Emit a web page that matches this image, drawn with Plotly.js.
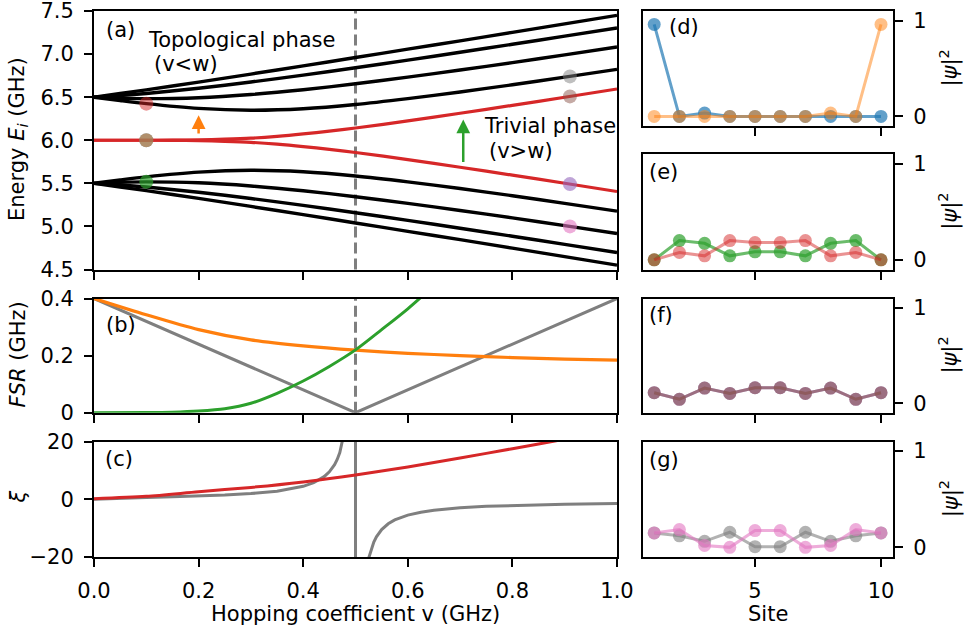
<!DOCTYPE html>
<html><head><meta charset="utf-8">
<script src="https://cdn.plot.ly/plotly-3.0.1.min.js"></script>
<style>html,body{margin:0;padding:0;background:#fff}#chart{width:978px;height:633px}</style>
</head><body><div id="chart"></div>
<script>
// ---------- panel (a): energies vs hopping v ----------
const hopV = [0, 0.05, 0.1, 0.2, 0.3, 0.4, 0.5, 0.6, 0.7, 0.8, 0.9, 1.0];
const bandUp1 = [6.5, 6.542, 6.585, 6.675, 6.768, 6.863, 6.960, 7.057, 7.154, 7.252, 7.351, 7.449];
const bandUp2 = [6.5, 6.519, 6.543, 6.603, 6.676, 6.756, 6.841, 6.930, 7.021, 7.114, 7.208, 7.303];
const bandUp3 = [6.5, 6.488, 6.483, 6.494, 6.531, 6.586, 6.655, 6.732, 6.815, 6.901, 6.991, 7.082];
const bandUp4 = [6.5, 6.461, 6.425, 6.370, 6.349, 6.366, 6.415, 6.483, 6.560, 6.644, 6.732, 6.823];
const bandLo1 = [5.5, 5.458, 5.415, 5.325, 5.232, 5.137, 5.040, 4.943, 4.846, 4.748, 4.649, 4.551];
const bandLo2 = [5.5, 5.481, 5.457, 5.397, 5.324, 5.244, 5.159, 5.070, 4.979, 4.886, 4.792, 4.697];
const bandLo3 = [5.5, 5.512, 5.517, 5.506, 5.469, 5.414, 5.345, 5.268, 5.185, 5.099, 5.009, 4.918];
const bandLo4 = [5.5, 5.539, 5.575, 5.630, 5.651, 5.634, 5.585, 5.517, 5.440, 5.356, 5.268, 5.177];
const edgeV  = [0, 0.1, 0.15, 0.2, 0.25, 0.3, 0.35, 0.4, 0.45, 0.5, 0.6, 0.7, 0.8, 0.9, 1.0];
const edgeUp = [6.0, 6.0, 6.001, 6.004, 6.012, 6.024, 6.045, 6.073, 6.106, 6.142, 6.224, 6.313, 6.405, 6.499, 6.595];
const edgeLo = [6.0, 6.0, 5.999, 5.996, 5.988, 5.976, 5.955, 5.927, 5.894, 5.858, 5.776, 5.687, 5.595, 5.501, 5.405];
const energyTicks = [4.5, 5.0, 5.5, 6.0, 6.5, 7.0, 7.5];
const energyTickText = ['4.5', '5.0', '5.5', '6.0', '6.5', '7.0', '7.5'];
// highlighted states
const dotLeftV = [0.1];
const dotEdgeE = [6.0], dotRedE = [6.425], dotGreenE = [5.517];
const dotRightV = [0.91];
const dotGrayE = [6.741], dotBrownE = [6.509], dotPurpleE = [5.491], dotPinkE = [5.0];
const transitionV = 0.5;

// ---------- panel (b): FSR ----------
const fsrGrayV = [0, 0.5, 1.0];
const fsrGray  = [0.4, 0.0, 0.4];
const fsrOrangeV = [0, 0.1, 0.2, 0.3, 0.4, 0.5, 0.6, 0.7, 0.8, 0.9, 1.0];
const fsrOrange  = [0.400, 0.343, 0.291, 0.255, 0.234, 0.219, 0.208, 0.200, 0.193, 0.188, 0.184];
const fsrGreenV = [0, 0.1, 0.15, 0.2, 0.25, 0.3, 0.35, 0.4, 0.45, 0.5, 0.55, 0.6, 0.65];
const fsrGreen  = [0, 0.0005, 0.002, 0.006, 0.014, 0.033, 0.068, 0.111, 0.162, 0.220, 0.291, 0.364, 0.445];

// ---------- panel (c): xi ----------
const xiGrayV = [0, 0.05, 0.1, 0.15, 0.2, 0.25, 0.3, 0.35, 0.4, 0.42, 0.44, 0.45, 0.46, 0.465, 0.47, 0.475, 0.48, 0.485, 0.49, 0.499,
                 0.501, 0.51, 0.515, 0.52, 0.525, 0.53, 0.535, 0.54, 0.55, 0.5625, 0.575, 0.6, 0.625, 0.65, 0.7, 0.75, 0.8, 0.9, 1.0];
const xiGray  = [0, 0.434, 0.621, 0.831, 1.091, 1.443, 1.958, 2.804, 4.481, 5.736, 7.822, 9.491, 11.99, 13.78, 16.16, 19.50, 24.49, 32.8, 49.5, 499.5,
                 -500.5, -50.5, -33.8, -25.5, -20.5, -17.16, -14.79, -12.99, -10.49, -8.49, -7.155, -5.485, -4.48, -3.811, -2.972, -2.466, -2.128, -1.701, -1.443];
const xiRedV = [0, 0.1, 0.2, 0.3, 0.4, 0.5, 0.6, 0.7, 0.8, 0.9, 1.0];
const xiRed  = [0.2, 1.0, 2.6, 4.1, 6.0, 8.4, 11.2, 14.3, 17.5, 20.8, 24.3];

// ---------- panels (d)-(g): |psi|^2 vs site ----------
const sites = [1, 2, 3, 4, 5, 6, 7, 8, 9, 10];
const psiDBlue   = [0.96, 0.0, 0.035, 0.0, 0.0, 0.0, 0.0, 0.0, 0.0, 0.0];
const psiDOrange = [0.0, 0.0, 0.0, 0.0, 0.0, 0.0, 0.0, 0.035, 0.0, 0.96];
const psiEGreen  = [0.0, 0.2, 0.172, 0.042, 0.084, 0.084, 0.042, 0.172, 0.2, 0.0];
const psiERed    = [0.0, 0.077, 0.042, 0.2, 0.18, 0.18, 0.2, 0.042, 0.077, 0.0];
const psiFPurple = [0.11, 0.041, 0.159, 0.103, 0.162, 0.162, 0.103, 0.159, 0.041, 0.11];
const psiFBrown  = [0.11, 0.041, 0.159, 0.103, 0.162, 0.162, 0.103, 0.159, 0.041, 0.11];
const psiGGray   = [0.15, 0.12, 0.063, 0.157, 0.007, 0.007, 0.157, 0.063, 0.12, 0.15];
const psiGPink   = [0.15, 0.185, 0.02, 0.0, 0.175, 0.175, 0.0, 0.02, 0.185, 0.15];

const C = {blue:'31,119,180', orange:'255,127,14', green:'44,160,44', red:'214,39,40',
           purple:'148,103,189', brown:'140,86,75', pink:'227,119,194', gray:'127,127,127'};
const rgba = (c, a) => `rgba(${C[c]},${a})`;

const traces = [];
function curve(x, y, xa, ya, color, width, shape) {
  traces.push({x, y, xaxis: xa, yaxis: ya, mode: 'lines', hoverinfo: 'skip',
    line: {color, width, shape: shape || 'spline', smoothing: 0.8}});
}
// (a)
[bandUp1, bandUp2, bandUp3, bandUp4, bandLo1, bandLo2, bandLo3, bandLo4].forEach(b => curve(hopV, b, 'x', 'y', '#000', 3.4));
curve(edgeV, edgeUp, 'x', 'y', '#d62728', 3.2);
curve(edgeV, edgeLo, 'x', 'y', '#d62728', 3.2);
function dot(x, y, col, a) {
  traces.push({x, y, xaxis: 'x', yaxis: 'y', mode: 'markers', hoverinfo: 'skip',
    marker: {size: 14, color: rgba(col, a), line: {width: 0}}});
}
dot(dotLeftV, dotRedE, 'red', 0.5);
dot(dotLeftV, dotEdgeE, 'blue', 0.7);
dot(dotLeftV, dotEdgeE, 'orange', 0.5);
dot(dotLeftV, dotGreenE, 'green', 0.7);
dot(dotRightV, dotGrayE, 'gray', 0.5);
dot(dotRightV, dotBrownE, 'brown', 0.5);
dot(dotRightV, dotPurpleE, 'purple', 0.6);
dot(dotRightV, dotPinkE, 'pink', 0.6);
// (b)
curve(fsrGrayV, fsrGray, 'x2', 'y2', '#7f7f7f', 3, 'linear');
curve(fsrOrangeV, fsrOrange, 'x2', 'y2', '#ff7f0e', 3.2);
curve(fsrGreenV, fsrGreen, 'x2', 'y2', '#2ca02c', 3);
// (c)
curve(xiGrayV, xiGray, 'x3', 'y3', '#7f7f7f', 3, 'linear');
curve(xiRedV, xiRed, 'x3', 'y3', '#d62728', 3);
// right panels
function psi(y, xa, ya, col, a) {
  traces.push({x: sites, y, xaxis: xa, yaxis: ya, mode: 'lines+markers', hoverinfo: 'skip', cliponaxis: false,
    line: {color: rgba(col, a), width: 3}, marker: {size: 13, color: rgba(col, a), line: {width: 0}}});
}
psi(psiDBlue, 'x4', 'y4', 'blue', 0.7);
psi(psiDOrange, 'x4', 'y4', 'orange', 0.5);
psi(psiEGreen, 'x5', 'y5', 'green', 0.7);
psi(psiERed, 'x5', 'y5', 'red', 0.5);
psi(psiFPurple, 'x6', 'y6', 'purple', 0.7);
psi(psiFBrown, 'x6', 'y6', 'brown', 0.6);
psi(psiGGray, 'x7', 'y7', 'gray', 0.6);
psi(psiGPink, 'x7', 'y7', 'pink', 0.6);

const FONT = 'DejaVu Sans, Liberation Sans, sans-serif';
const FS = 21;
function axis(extra) {
  return Object.assign({showline: true, mirror: true, linecolor: '#000', linewidth: 2,
    ticks: 'outside', ticklen: 8, tickwidth: 2, tickcolor: '#000', showgrid: false, zeroline: false,
    tickfont: {size: FS, color: '#000', family: FONT}, automargin: false, fixedrange: true,
    ticklabelstandoff: 6, ticklabeloverflow: 'allow'}, extra);
}
const W = 978, H = 633;
const xL = [94 / W, 617 / W], xR = [642.7 / W, 893 / W];
const dom = (top, bot) => [1 - bot / H, 1 - top / H];
const rowA = dom(11, 269.5), rowB = dom(298.5, 412.7), rowC = dom(441.5, 557);
const row1 = dom(11, 126), row2 = dom(154, 269.5);
const hopTicks = [0, 0.2, 0.4, 0.6, 0.8, 1.0];
const siteRange = [0.544, 10.476], psiRange = [-0.1, 1.1];

const layout = {
  width: W, height: H, margin: {l: 0, r: 0, t: 0, b: 0},
  paper_bgcolor: '#fff', plot_bgcolor: '#fff', showlegend: false,
  font: {family: FONT, size: FS, color: '#000'},
  xaxis:  axis({domain: xL, anchor: 'y',  range: [0, 1], tickvals: hopTicks, showticklabels: false}),
  yaxis:  axis({domain: rowA, anchor: 'x', range: [4.5, 7.5], tickvals: energyTicks, ticktext: energyTickText}),
  xaxis2: axis({domain: xL, anchor: 'y2', range: [0, 1], tickvals: hopTicks, showticklabels: false}),
  yaxis2: axis({domain: rowB, anchor: 'x2', range: [0, 0.4], tickvals: [0, 0.2, 0.4], ticktext: ['0', '0.2', '0.4']}),
  xaxis3: axis({domain: xL, anchor: 'y3', range: [0, 1], tickvals: hopTicks, tickformat: '.1f'}),
  yaxis3: axis({domain: rowC, anchor: 'x3', range: [-20, 20], tickvals: [-20, 0, 20]}),
  xaxis4: axis({domain: xR, anchor: 'y4', range: siteRange, tickvals: [5, 10], showticklabels: false}),
  yaxis4: axis({domain: row1, anchor: 'x4', range: psiRange, tickvals: [0, 1], side: 'right'}),
  xaxis5: axis({domain: xR, anchor: 'y5', range: siteRange, tickvals: [5, 10], showticklabels: false}),
  yaxis5: axis({domain: row2, anchor: 'x5', range: psiRange, tickvals: [0, 1], side: 'right'}),
  xaxis6: axis({domain: xR, anchor: 'y6', range: siteRange, tickvals: [5, 10], showticklabels: false}),
  yaxis6: axis({domain: rowB, anchor: 'x6', range: psiRange, tickvals: [0, 1], side: 'right'}),
  xaxis7: axis({domain: xR, anchor: 'y7', range: siteRange, tickvals: [5, 10]}),
  yaxis7: axis({domain: rowC, anchor: 'x7', range: psiRange, tickvals: [0, 1], side: 'right'}),
  shapes: [
    {type: 'line', xref: 'x', yref: 'y domain', x0: transitionV, x1: transitionV, y0: 0, y1: 1, layer: 'below',
     line: {color: '#7f7f7f', width: 3, dash: '11px,5px'}},
    {type: 'line', xref: 'x2', yref: 'y2 domain', x0: transitionV, x1: transitionV, y0: 0, y1: 1, layer: 'below',
     line: {color: '#7f7f7f', width: 3, dash: '11px,5px'}}
  ],
  annotations: []
};
const A = layout.annotations;
function txt(text, x, y, xref, yref, opts) {
  A.push(Object.assign({text, x, y, xref, yref, showarrow: false, xanchor: 'left', yanchor: 'middle',
    font: {size: FS, color: '#000', family: FONT}}, opts || {}));
}
txt('(a)', 0.019, 7.279, 'x', 'y');
txt('Topological phase', 0.0995, 7.169, 'x', 'y');
txt('(v&lt;w)', 0.111, 6.890, 'x', 'y');
txt('Trivial phase', 0.742, 6.164, 'x', 'y');
txt('(v&gt;w)', 0.751, 5.874, 'x', 'y');
txt('(b)', 0.019, 0.308, 'x2', 'y2');
txt('(c)', 0.018, 13.8, 'x3', 'y3');
txt('(d)', 0.097, 0.863, 'x4 domain', 'y4 domain');
txt('(e)', 0.017, 0.847, 'x5 domain', 'y5 domain');
txt('(f)', 0.017, 0.853, 'x6 domain', 'y6 domain');
txt('(g)', 0.017, 0.840, 'x7 domain', 'y7 domain');
// arrows
A.push({x: 0.2, y: 6.29, ax: 0.2, ay: 6.06, xref: 'x', yref: 'y', axref: 'x', ayref: 'y', text: '',
  showarrow: true, arrowhead: 2, arrowsize: 1.1, arrowwidth: 2.5, arrowcolor: '#ff7f0e', standoff: 0});
A.push({x: 0.706, y: 6.24, ax: 0.706, ay: 5.73, xref: 'x', yref: 'y', axref: 'x', ayref: 'y', text: '',
  showarrow: true, arrowhead: 2, arrowsize: 1.1, arrowwidth: 2.5, arrowcolor: '#2ca02c', standoff: 0});
// axis titles
const cen = {xanchor: 'center', yanchor: 'middle'};
txt('Energy <i>E</i><sub><i>i</i></sub> (GHz)', 17.5 / W, 1 - 139.5 / H, 'paper', 'paper', Object.assign({textangle: -90}, cen));
txt('<i>FSR</i> (GHz)', 17.5 / W, 1 - 355 / H, 'paper', 'paper', Object.assign({textangle: -90}, cen));
txt('<i>ξ</i>', 17.5 / W, 1 - 497 / H, 'paper', 'paper', Object.assign({textangle: -90}, cen));
txt('Hopping coefficient v (GHz)', 355.5 / W, 1 - 614 / H, 'paper', 'paper', cen);
txt('Site', 767.5 / W, 1 - 614 / H, 'paper', 'paper', cen);
[68.5, 211.75, 355.6, 499.25].forEach(py =>
  txt('|<i>ψ</i>|<sup>2</sup>', 949 / W, 1 - py / H, 'paper', 'paper', Object.assign({textangle: -90}, cen)));

Plotly.newPlot('chart', traces, layout, {displayModeBar: false, staticPlot: true});
</script>
</body></html>
